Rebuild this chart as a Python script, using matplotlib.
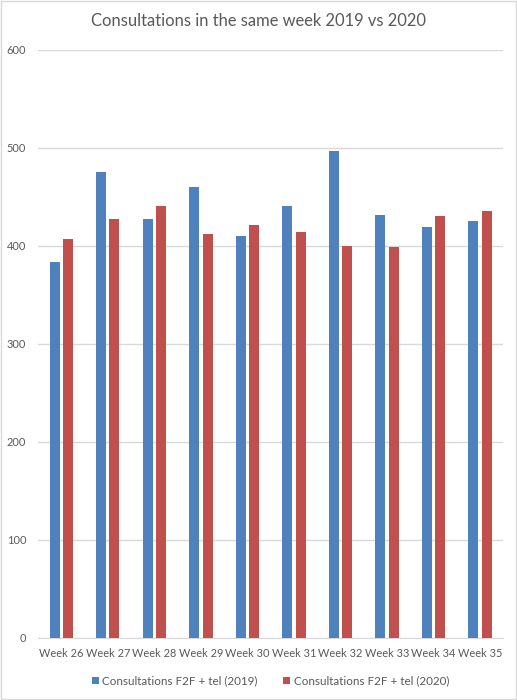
import numpy as np
import matplotlib.pyplot as plt
from matplotlib.patches import Rectangle

weeks = ["Week 26", "Week 27", "Week 28", "Week 29", "Week 30",
         "Week 31", "Week 32", "Week 33", "Week 34", "Week 35"]
cons_2019 = [384, 475, 428, 460, 410, 441, 497, 432, 419, 426]
cons_2020 = [407, 428, 441, 412, 421, 414, 400, 399, 431, 436]
labels = ["Consultations F2F + tel (2019)", "Consultations F2F + tel (2020)"]

plt.rcParams['font.family'] = ['Lato', 'DejaVu Sans']
grey = "#595959"

fig = plt.figure(figsize=(5.17, 7.0), dpi=100)
ax = fig.add_axes([0.0735, 0.0886, 0.8995, 0.84])

x = np.arange(len(weeks))
w = 0.215
off = 0.145
ax.bar(x - off, cons_2019, w, color="#4F81BD", label=labels[0], zorder=3)
ax.bar(x + off, cons_2020, w, color="#C0504D", label=labels[1], zorder=3)

ax.set_xlim(-0.5, len(weeks) - 0.5)
ax.set_ylim(0, 600)
ax.set_yticks(range(0, 601, 100))
ax.set_xticks(x)
ax.set_xticklabels(weeks)
ax.tick_params(axis="both", length=0, labelsize=7.9, colors=grey)
ax.tick_params(axis="y", pad=8.5)
ax.tick_params(axis="x", pad=7)
ax.grid(axis="y", color="#D9D9D9", linewidth=1, zorder=0)
for s in ["top", "right", "left"]:
    ax.spines[s].set_visible(False)
ax.spines["bottom"].set_color("#D9D9D9")

fig.suptitle("Consultations in the same week 2019 vs 2020", y=0.982,
             fontsize=11.9, color=grey)
ax.legend(loc="upper center", bbox_to_anchor=(0.5, -0.046), ncol=2,
          frameon=False, fontsize=8.4, labelcolor=grey, handlelength=0.6,
          handleheight=0.6, columnspacing=2.2, handletextpad=0.3)

fig.patches.append(Rectangle((0.002, 0.002), 0.996, 0.996, transform=fig.transFigure,
                             fill=False, edgecolor="#D9D9D9", linewidth=1))

fig.savefig("out.png", dpi=100)
